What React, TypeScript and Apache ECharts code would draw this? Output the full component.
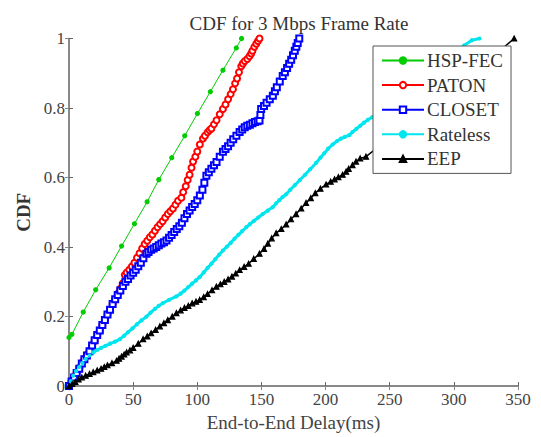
import React, { useEffect, useRef } from "react";
import * as echarts from "echarts";

const seriesNames = ["HSP-FEC", "PATON", "CLOSET", "Rateless", "EEP"];
const seriesColors = ["#00cc00", "#ff0000", "#0000ff", "#00e5ee", "#000000"];

const hspFec: number[][] = [
  [0, 0.14], [2.3, 0.149], [11.1, 0.213], [20.8, 0.277], [31.3, 0.34], [41, 0.403],
  [51, 0.467], [60.9, 0.53], [70, 0.594], [80.1, 0.657], [90.2, 0.72], [100.1, 0.784],
  [110.2, 0.847], [120, 0.909], [130.4, 0.973], [134.5, 1.0],
];

const paton: number[][] = [
  [0, 0], [2, 0.015], [4, 0.028], [6, 0.04], [8, 0.052], [10, 0.066], [12, 0.078], [14, 0.09],
  [16, 0.101], [18, 0.116], [20, 0.13], [22, 0.146], [24, 0.16], [26, 0.176], [28, 0.19],
  [30, 0.206], [32, 0.22], [34, 0.236], [36, 0.25], [38, 0.266], [40, 0.28], [42, 0.296],
  [43.5, 0.32], [45, 0.327], [47, 0.335], [49, 0.344], [51, 0.355], [53, 0.369], [55, 0.382],
  [57, 0.396], [59, 0.409], [61, 0.418], [63, 0.428], [65, 0.436], [67, 0.447], [69, 0.457],
  [71, 0.466], [73, 0.474], [75, 0.485], [77, 0.495], [79, 0.503], [81, 0.511], [83, 0.522],
  [85, 0.533], [87.6, 0.542], [89, 0.558], [91, 0.575], [92.5, 0.593], [94, 0.608],
  [95.5, 0.628], [96.7, 0.646], [98.5, 0.66], [100, 0.675], [102, 0.695], [104.4, 0.712],
  [106, 0.72], [108, 0.73], [109.5, 0.736], [111, 0.741], [113, 0.753], [115, 0.765],
  [117.5, 0.782], [120, 0.797], [122, 0.81], [124, 0.825], [126, 0.84], [127.8, 0.854],
  [129.5, 0.871], [131, 0.885], [132.5, 0.903], [134.3, 0.92], [135.5, 0.928], [137, 0.935],
  [139, 0.941], [140.7, 0.949], [142, 0.957], [143, 0.965], [144.5, 0.976], [146, 0.985],
  [147.3, 0.993], [148.5, 1.0],
];

const closet: number[][] = [
  [0, 0], [2, 0.013], [4, 0.025], [6, 0.038], [8, 0.05], [10, 0.065], [12, 0.077], [14, 0.088],
  [16, 0.1], [18, 0.117], [20, 0.132], [22, 0.147], [24, 0.16], [26, 0.176], [28, 0.19],
  [30, 0.206], [32, 0.22], [34, 0.236], [36, 0.25], [38, 0.262], [40, 0.275], [42, 0.288],
  [44, 0.3], [46, 0.308], [48, 0.318], [50, 0.326], [52, 0.335], [54, 0.345], [56, 0.355],
  [58, 0.368], [60.4, 0.381], [62, 0.386], [64, 0.392], [66, 0.396], [68, 0.4], [70, 0.405],
  [72, 0.41], [74, 0.414], [76, 0.419], [78, 0.427], [80, 0.435], [82, 0.443], [84, 0.452],
  [86, 0.46], [88, 0.47], [90, 0.483], [92, 0.495], [94, 0.505], [96, 0.515], [98, 0.524],
  [100, 0.535], [102, 0.548], [104, 0.565], [105.5, 0.585], [107.1, 0.605], [109, 0.615],
  [111, 0.625], [113, 0.635], [115, 0.645], [117.5, 0.66], [120, 0.674], [122, 0.682],
  [124, 0.69], [126, 0.7], [128, 0.71], [130.5, 0.72], [133, 0.731], [135, 0.738],
  [137, 0.745], [139, 0.749], [141, 0.752], [143, 0.756], [145, 0.76], [147, 0.762],
  [148.5, 0.764], [149.2, 0.78], [149.8, 0.797], [152, 0.806], [154, 0.815], [156.5, 0.825],
  [158.9, 0.835], [160.5, 0.848], [162, 0.86], [164.3, 0.876], [166.6, 0.892], [168.3, 0.903],
  [170, 0.915], [171.6, 0.927], [173.2, 0.939], [174.6, 0.952], [176, 0.965], [177.2, 0.976],
  [178.3, 0.987], [179.5, 1.0],
];

const rateless: number[][] = [
  [0, 0], [1.5, 0.014], [3.3, 0.03], [5.5, 0.043], [8, 0.055], [10.5, 0.066], [13, 0.078],
  [16, 0.088], [18.9, 0.097], [22, 0.104], [25, 0.11], [28.5, 0.116], [32, 0.122], [36, 0.128],
  [39.7, 0.135], [43, 0.145], [46, 0.155], [49.5, 0.166], [53, 0.178], [56.5, 0.189],
  [60.4, 0.2], [63.5, 0.211], [67, 0.222], [70, 0.231], [73.3, 0.239], [78, 0.248],
  [83.7, 0.258], [87, 0.266], [90, 0.275], [93, 0.285], [96, 0.295], [99, 0.304],
  [101.9, 0.314], [105, 0.327], [108, 0.34], [111, 0.352], [114, 0.365], [117, 0.378],
  [120, 0.39], [123, 0.401], [126, 0.412], [129, 0.424], [132, 0.435], [135, 0.446],
  [138.2, 0.457], [141, 0.466], [144, 0.475], [147.5, 0.485], [151, 0.495], [155, 0.505],
  [158.9, 0.515], [161.5, 0.526], [164, 0.535], [166.5, 0.544], [169.3, 0.552], [172.5, 0.565],
  [176, 0.578], [180, 0.593], [184, 0.608], [188, 0.624], [192.6, 0.642], [196, 0.657],
  [199, 0.67], [202, 0.683], [205.5, 0.695], [209, 0.705], [212, 0.712], [215, 0.717],
  [218.5, 0.722], [221, 0.731], [224, 0.74], [227, 0.749], [230, 0.758], [233, 0.766],
  [236.6, 0.774], [250, 0.81], [265, 0.85], [280, 0.89], [295, 0.935], [308, 0.98],
  [314, 0.995], [320, 1.0],
];

const eep: number[][] = [
  [0, 0], [2.5, 0.006], [5, 0.012], [7.5, 0.019], [10, 0.025], [13, 0.03], [16, 0.035],
  [18.9, 0.04], [22, 0.045], [25, 0.05], [27.5, 0.055], [30, 0.06], [33.5, 0.066],
  [37.1, 0.073], [39, 0.079], [41, 0.085], [43, 0.091], [44.9, 0.097], [47.5, 0.103],
  [50, 0.11], [54, 0.122], [57.8, 0.135], [61, 0.143], [64, 0.152], [67.5, 0.162],
  [70.8, 0.172], [74, 0.181], [77, 0.19], [80.5, 0.2], [83.7, 0.21], [87, 0.218],
  [90, 0.225], [93, 0.231], [96, 0.238], [99, 0.243], [101.9, 0.248], [105, 0.256],
  [108, 0.265], [111.5, 0.276], [114.9, 0.286], [118, 0.293], [121, 0.3], [124, 0.307],
  [127, 0.315], [130, 0.324], [133, 0.334], [136.5, 0.343], [140, 0.352], [144, 0.366],
  [148.5, 0.381], [152, 0.395], [155, 0.41], [158, 0.425], [161.5, 0.44], [165.5, 0.452],
  [169.3, 0.465], [173, 0.48], [177, 0.495], [181, 0.511], [184.8, 0.527], [188.5, 0.541],
  [192, 0.555], [196, 0.568], [200.4, 0.58], [204, 0.588], [207, 0.595], [210, 0.601],
  [213.3, 0.608], [216, 0.617], [218, 0.625], [221, 0.636], [223.7, 0.646], [227, 0.655],
  [231.5, 0.66], [240, 0.685], [260, 0.74], [280, 0.8], [300, 0.86], [320, 0.92],
  [335, 0.962], [347, 1.0],
];

const xTicks = [0, 50, 100, 150, 200, 250, 300, 350];
const yTicks = [0, 0.2, 0.4, 0.6, 0.8, 1];

const titleText = "CDF for 3 Mbps Frame Rate";
const xName = "End-to-End Delay(ms)";
const yName = "CDF";

const FONT = "'Liberation Serif', 'Times New Roman', serif";

export default function App() {
  const ref = useRef<HTMLDivElement>(null);
  useEffect(() => {
    document.body.style.margin = "0";
    if (!ref.current) return;
    const chart = echarts.init(ref.current, undefined, { renderer: "svg" });
    const allData = [hspFec, paton, closet, rateless, eep];
    const symbols = ["circle", "emptyCircle", "emptyRect", "circle", "triangle"];
    const symbolSizes = [4, 6, 6, 3, 5];
    const lineWidths = [1, 1.2, 1.2, 3, 1.5];

    const axisCommon = {
      min: xTicks[0],
      max: xTicks[xTicks.length - 1],
      interval: xTicks[1] - xTicks[0],
    };
    const yCommon = {
      min: yTicks[0],
      max: yTicks[yTicks.length - 1],
      interval: 0.2,
    };

    chart.setOption({
      animation: false,
      backgroundColor: "#ffffff",
      textStyle: { fontFamily: FONT },
      title: {
        text: titleText,
        left: 294,
        top: 8,
        textAlign: "center",
        textStyle: { fontFamily: FONT, fontSize: 19, fontWeight: "normal", color: "#333", lineHeight: 21 },
      },
      grid: { left: 69, right: 23, top: 38.5, bottom: 46, containLabel: false },
      legend: {
        orient: "vertical",
        left: 373,
        top: 46,
        width: 135,
        padding: [5, 8, 5, 8],
        itemGap: 5.6,
        itemWidth: 42,
        itemHeight: 8,
        backgroundColor: "#ffffff",
        borderColor: "#555",
        borderWidth: 1,
        borderRadius: 0,
        textStyle: { fontFamily: FONT, fontSize: 19, color: "#333", lineHeight: 19, padding: [0, 0, 0, -2] },
        data: seriesNames,
      },
      xAxis: [
        {
          type: "value",
          ...axisCommon,
          position: "bottom",
          name: xName,
          nameLocation: "middle",
          nameGap: 24,
          nameTextStyle: { fontFamily: FONT, fontSize: 19, color: "#444" },
          axisLine: { show: true, lineStyle: { color: "#666", width: 1.5 } },
          axisTick: { show: true, inside: true, length: 4, lineStyle: { color: "#666" } },
          axisLabel: { fontFamily: FONT, fontSize: 17, color: "#444", margin: 5 },
          splitLine: { show: false },
        },
        {
          type: "value",
          ...axisCommon,
          position: "top",
          axisLine: { show: true, lineStyle: { color: "#888", width: 1.5 } },
          axisTick: { show: true, inside: true, length: 4, lineStyle: { color: "#888" } },
          axisLabel: { show: false },
          splitLine: { show: false },
        },
      ],
      yAxis: [
        {
          type: "value",
          ...yCommon,
          position: "left",
          name: yName,
          nameLocation: "middle",
          nameGap: 32,
          nameRotate: 90,
          nameTextStyle: { fontFamily: FONT, fontSize: 19, fontWeight: "bold", color: "#333" },
          axisLine: { show: true, lineStyle: { color: "#666", width: 1.5 } },
          axisTick: { show: true, inside: true, length: 4, lineStyle: { color: "#666" } },
          axisLabel: { fontFamily: FONT, fontSize: 17, color: "#444", margin: 4 },
          splitLine: { show: false },
        },
        {
          type: "value",
          ...yCommon,
          position: "right",
          axisLine: { show: true, lineStyle: { color: "#888", width: 1.5 } },
          axisTick: { show: true, inside: true, length: 4, lineStyle: { color: "#888" } },
          axisLabel: { show: false },
          splitLine: { show: false },
        },
      ],
      series: seriesNames.map((name, i) => ({
        name,
        type: "line",
        xAxisIndex: 0,
        yAxisIndex: 0,
        data: allData[i],
        symbol: symbols[i],
        symbolSize: symbolSizes[i],
        showSymbol: true,
        showAllSymbol: true,
        clip: true,
        lineStyle: { color: seriesColors[i], width: lineWidths[i] },
        itemStyle: { color: seriesColors[i], borderColor: seriesColors[i], borderWidth: 1.2 },
      })),
    });
    return () => chart.dispose();
  }, []);
  return <div ref={ref} style={{ width: 541, height: 437 }} />;
}
